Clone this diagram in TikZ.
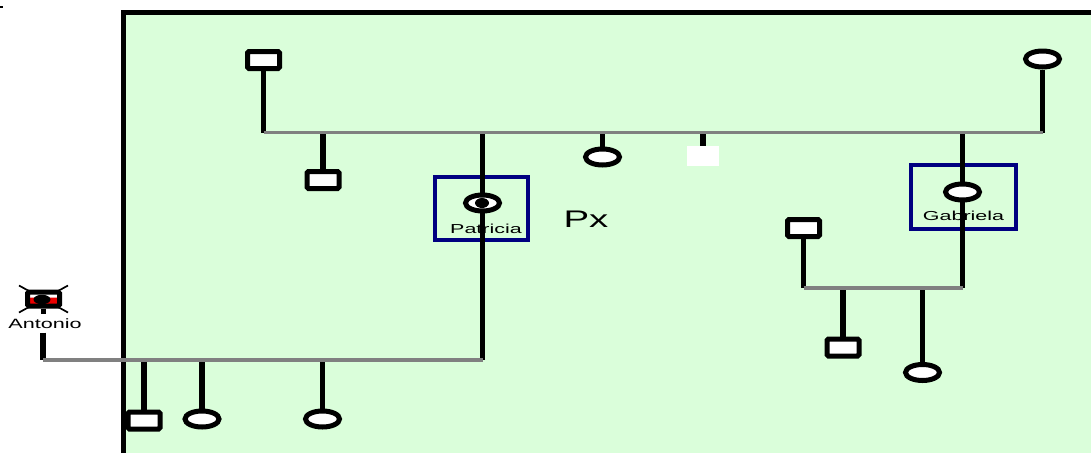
\documentclass[tikz,border=0pt]{standalone}
\usepackage{fontspec}
\setmainfont{Liberation Sans}
\usetikzlibrary{shapes.geometric}
\pgfdeclarelayer{bgl}
\pgfdeclarelayer{lnl}
\pgfsetlayers{bgl,lnl,main}
\definecolor{bggreen}{RGB}{218,254,218}
\definecolor{kingray}{RGB}{128,128,128}
\definecolor{boxblue}{RGB}{0,0,128}
\definecolor{antred}{RGB}{235,0,0}
\tikzset{
  kin/.style={black, line width=5.5},
  couple/.style={kingray, line width=3.5},
  male/.style={rectangle, draw=black, line width=5, fill=white, minimum width=32, minimum height=17, inner sep=0, rounded corners=1.5},
  female/.style={ellipse, draw=black, line width=5, fill=white, minimum width=34, minimum height=16, inner sep=0},
  unk/.style={rectangle, fill=white, minimum width=32, minimum height=20, inner sep=0},
  pbox/.style={rectangle, draw=boxblue, line width=4, inner sep=0},
  dotmark/.style={ellipse, fill=black, minimum width=14, minimum height=10, inner sep=0},
  lbl/.style={inner sep=0, anchor=base, font=\fontsize{13}{15}\selectfont},
  xline/.style={black, line width=1.7}
}
\begin{document}
\begin{tikzpicture}[x=1pt,y=-1pt]
\useasboundingbox (0,0) rectangle (1091,453);
\begin{pgfonlayer}{bgl}
  \fill[bggreen] (123.5,12.5) rectangle (1091,453);
  \draw[black, line width=5] (123.5,453) -- (123.5,12.5) -- (1091,12.5);
  \draw[black, line width=2] (0,6.5) -- (3,6.5);
  \node[pbox, minimum width=93, minimum height=63] (pbx) at (481.5,208.5) {};
  \node[pbox, minimum width=105, minimum height=64] (gbx) at (963.5,197) {};
\end{pgfonlayer}

% top generation
\node[male] (gf) at (263.5,60) {};
\node[female] (gm) at (1042.5,59) {};
\coordinate (gfj) at (263.5,132.5);
\coordinate (gmj) at (1042.5,132.5);

% children of top couple
\node[male] (c1) at (323,180) {};
\node[female] (c2) at (602.5,157) {};
\node[unk] (c3) at (703,156) {};
\node[female] (pat) at (482.5,203) {};
\node[dotmark] (patdot) at (482,203) {};
\node[lbl] (patname) at (486,233) {\scalebox{1.65}[1]{Patricia}};
\node[female] (gab) at (962.5,192) {};
\node[lbl] (gabname) at (963.5,220) {\scalebox{1.65}[1]{Gabriela}};
\node[lbl, font=\fontsize{24}{28}\selectfont] (px) at (586,227) {\scalebox{1.6}[1]{Px}};

% Gabriela's family
\node[male] (gh) at (803.5,228) {};
\coordinate (gabh) at (803.5,288);
\coordinate (gabj) at (962.5,288);
\node[male] (gc1) at (843,347.5) {};
\node[female] (gc2) at (922.5,372.5) {};

% Antonio and Patricia's family
\node[male, fill=white, minimum height=14,
  path picture={\fill[antred] ([yshift=1.5]path picture bounding box.west) rectangle (path picture bounding box.south east);}]
  (ant) at (43.5,299) {};
\node[dotmark, minimum width=17, minimum height=9.5] (antdot) at (42,299.5) {};
\node[lbl, font=\fontsize{13.5}{15}\selectfont, inner ysep=4.5, text height=9.5, text depth=0] (antname) at (45,328) {\scalebox{1.6}[1]{Antonio}};
\coordinate (antj) at (43,360);
\coordinate (patj) at (482.5,360);
\node[male] (ac1) at (144,420.5) {};
\node[female] (ac2) at (202,419) {};
\node[female] (ac3) at (322.5,419) {};

\begin{pgfonlayer}{lnl}
  \draw[xline] ([shift={(-24.5,-13.5)}]ant.center) -- ([shift={(24.5,13.5)}]ant.center);
  \draw[xline] ([shift={(24.5,-13.5)}]ant.center) -- ([shift={(-24.5,13.5)}]ant.center);
  \draw[kin] (gf) -- (gfj);
  \draw[kin] (gm) -- (gmj);
  \draw[kin] (c1) -- (c1 |- gfj);
  \draw[kin] (c2) -- (c2 |- gfj);
  \draw[kin] (c3) -- (c3 |- gfj);
  \draw[kin] (pat |- gfj) -- (patj);
  \draw[kin] (gab |- gfj) -- (gabj);
  \draw[kin] (gh) -- (gabh);
  \draw[kin] (gc1) -- (gc1 |- gabh);
  \draw[kin] (gc2) -- (gc2 |- gabh);
  \draw[kin] (ant) -- (ant |- antname.north);
  \draw[kin] (antj |- antname.south) -- (antj);
  \draw[kin] (ac1) -- (ac1 |- antj);
  \draw[kin] (ac2) -- (ac2 |- antj);
  \draw[kin] (ac3) -- (ac3 |- antj);
  \draw[couple] (gfj) -- (gmj);
  \draw[couple] (gabh) -- (gabj);
  \draw[couple] (antj) -- (patj);
\end{pgfonlayer}
\end{tikzpicture}
\end{document}
